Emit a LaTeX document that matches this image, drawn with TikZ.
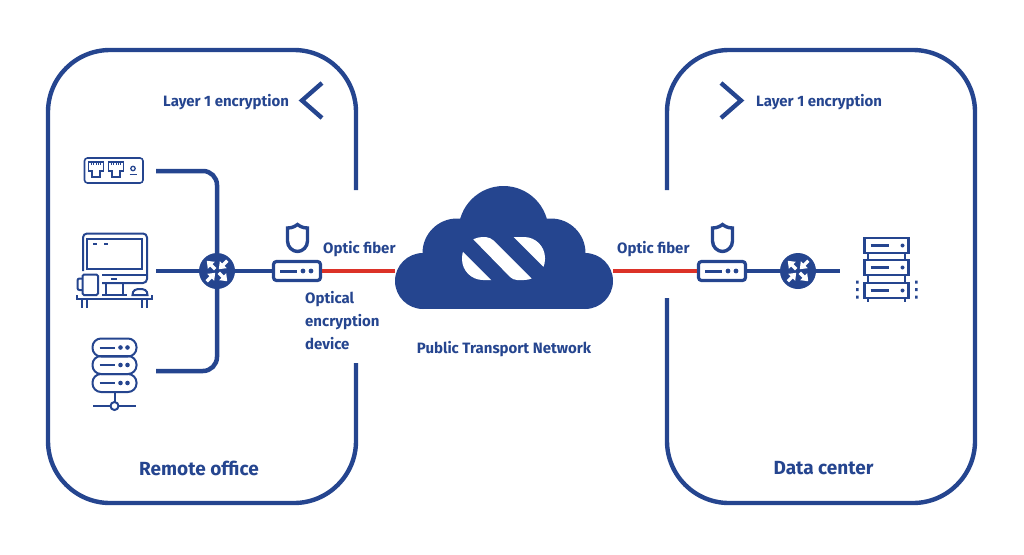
\documentclass[tikz,border=0pt]{standalone}
\usepackage{fontspec}
\setmainfont{Fira Sans}
\usepackage{tikz}
\usetikzlibrary{arrows.meta}
\definecolor{netblue}{HTML}{25458F}
\definecolor{fiberred}{HTML}{DC3228}
\tikzset{
	roomline/.style={draw=netblue,line width=4.4pt,rounded corners=62pt},
	netline/.style={draw=netblue,line width=4.5pt,rounded corners=14pt},
	fiberline/.style={draw=fiberred,line width=4.5pt},
	iconline/.style={draw=netblue,line width=2pt},
	lbl/.style={text=netblue,font=\bfseries\fontsize{15}{23}\selectfont,inner sep=0pt},
	roomlbl/.style={text=netblue,font=\bfseries\fontsize{19}{22}\selectfont,inner sep=0pt},
	swnode/.style={circle,fill=netblue,minimum size=36pt,inner sep=0pt},
	devbox/.style={draw=netblue,line width=3.2pt,rounded corners=3pt,minimum width=47pt,minimum height=19pt,inner sep=0pt},
	swtip/.style={white,line width=3.2pt,-{Triangle[width=9.5pt,length=6.5pt]}},
	pics/swarrows/.style={code={
		\foreach \a in {45,225}
			\draw[swtip] (\a:14.5pt) -- (\a:2.5pt);
		\foreach \a in {135,315}
			\draw[swtip] (\a:2.5pt) -- (\a:14.5pt);
	}},
	pics/shieldicon/.style={code={
		\draw[netblue,line width=3.4pt] (-10pt,10pt) .. controls (-5pt,10pt) and (-2pt,12pt) .. (0pt,13.5pt)
			.. controls (2pt,12pt) and (5pt,10pt) .. (10pt,10pt) -- (10pt,-3pt)
			.. controls (10pt,-9pt) and (5pt,-13.5pt) .. (0pt,-13.5pt)
			.. controls (-5pt,-13.5pt) and (-10pt,-9pt) .. (-10pt,-3pt) -- cycle;
	}},
	pics/devinner/.style={code={
		\draw[netblue,line width=3pt] (-17pt,0pt) -- (0pt,0pt);
		\fill[netblue] (6pt,0pt) circle (2.4pt) (14pt,0pt) circle (2.4pt);
	}},
	pics/rackunit/.style={code={
		\draw[netblue,line width=2.5pt] (-22pt,-7.5pt) rectangle (22pt,7.5pt);
		\draw[netblue,line width=2.5pt] (-16pt,0pt) -- (2pt,0pt);
		\fill[netblue] (16pt,0pt) circle (2pt);
	}},
	pics/pillunit/.style={code={
		\draw[netblue,line width=2pt,rounded corners=8.5pt] (-22pt,-9pt) rectangle (22pt,9pt);
		\draw[netblue,line width=2pt] (-15pt,0pt) -- (0pt,0pt);
		\fill[netblue] (6pt,0pt) circle (2.3pt) (13pt,0pt) circle (2.3pt);
	}},
	pics/portunit/.style={code={
		\draw[netblue,line width=1.3pt] (-7.5pt,7.5pt) -- (7.5pt,7.5pt) -- (7.5pt,-1.5pt) -- (4pt,-1.5pt) -- (4pt,-7.5pt) -- (-4pt,-7.5pt) -- (-4pt,-1.5pt) -- (-7.5pt,-1.5pt) -- cycle;
		\foreach \t in {-4.5,-2.25,0,2.25,4.5}
			\draw[netblue,line width=.8pt] (\t pt,7.5pt) -- (\t pt,4.5pt);
	}}
}
\begin{document}
\begin{tikzpicture}[x=1pt,y=-1pt]
	\useasboundingbox (0,0) rectangle (1024,554);
	% rooms
	\draw[roomline] (356,190) |- (48,50) |- (356,503) -- (356,363);
	\draw[roomline] (667,190) |- (975,50) |- (667,503) -- (667,298);
	\draw[draw=netblue,line width=4.4pt] (322,83) -- (302,100.5) -- (322,118);
	\draw[draw=netblue,line width=4.4pt] (721,83) -- (741,100.5) -- (721,118);
	\node[lbl,anchor=west] (layerleft) at (163,102.5) {Layer 1 encryption};
	\node[lbl,anchor=west] (layerright) at (756,102.5) {Layer 1 encryption};
	\node[roomlbl] (remote) at (199,468) {Remote office};
	\node[roomlbl] (center) at (823.5,468) {Data center};
	% main nodes
	\node[swnode] (swleft) at (217,271) {};
	\node[swnode] (swright) at (798,271) {};
	\node[devbox] (encleft) at (297,271) {};
	\node[devbox] (encright) at (722,271) {};
	\node[minimum width=218pt,minimum height=76pt,inner sep=0pt] (cloud) at (504,271) {};
	\coordinate (routerend) at (156,171);
	\coordinate (pcend) at (156,271);
	\coordinate (serverend) at (156,371);
	\coordinate (rackend) at (840,271);
	% connectors
	\draw[netline] (routerend) -| (swleft);
	\draw[netline] (serverend) -| (swleft);
	\draw[netline] (pcend) -- (swleft);
	\draw[netline] (swleft) -- (encleft);
	\draw[netline] (encright) -- (swright);
	\draw[netline] (swright) -- (rackend);
	\draw[fiberline] (encleft) -- (cloud);
	\draw[fiberline] (cloud) -- (encright);
	\pic at (swleft) {swarrows};
	\pic at (swright) {swarrows};
	\pic at (encleft) {devinner};
	\pic at (encright) {devinner};
	\pic at (297.5,238) {shieldicon};
	\pic at (722.5,238) {shieldicon};
	% cloud
	\fill[netblue] (423,281) circle (28);
	\fill[netblue] (585,281) circle (28);
	\fill[netblue] (457,253) circle (34.5);
	\fill[netblue] (551,253) circle (34.5);
	\fill[netblue] (503.5,231) circle (45);
	\fill[netblue] (423,253) rectangle (585,309);
	\begin{scope}
		\clip[rounded corners=21pt] (462,237) rectangle (545,280);
		\fill[white] (441,230) -- (496,285) -- (440,285) -- cycle;
		\fill[white,rounded corners=4pt] (470,236) -- (490.5,237.5) -- (536,283) -- (540,280) -- (513,280) -- cycle;
		\fill[white] (506.5,230) -- (570,230) -- (570,285) -- (561.5,285) -- cycle;
	\end{scope}
	\node[lbl,anchor=west] (fiberleft) at (323,249.5) {Optic fiber};
	\node[lbl,anchor=west] (fiberright) at (617,249.5) {Optic fiber};
	\node[lbl,anchor=north west,align=left] (devlabel) at (305,291) {Optical\\encryption\\device};
	\node[lbl] (transport) at (504,349.5) {Public Transport Network};
	% router
	\draw[draw=netblue,line width=1.6pt,rounded corners=3pt] (84.5,158) rectangle (143,183);
	\pic at (96,169.5) {portunit};
	\pic at (116,169.5) {portunit};
	\draw[netblue,line width=1.3pt] (133,168.5) circle (2.2);
	\draw[netblue,line width=1.5pt] (129.5,174.5) -- (136.5,174.5);
	% computer
	\draw[iconline,rounded corners=4pt] (83,271) -- (83,233.5) -- (147,233.5) -- (147,283) -- (102,283);
	\draw[iconline] (86.5,238.5) rectangle (142,269);
	\draw[iconline] (102,274.5) -- (147,274.5);
	\draw[iconline] (93,243.5) -- (97,243.5) (104,243.5) -- (108,243.5);
	\draw[iconline] (111,278.5) -- (117,278.5);
	\draw[iconline,rounded corners=1.5pt] (82.5,274.5) rectangle (98,295);
	\draw[iconline,rounded corners=2pt] (82.5,278.5) -- (77.5,278.5) -- (77.5,290) -- (82.5,290);
	\draw[iconline] (106,283) -- (106,295) (123,283) -- (123,295) (102,295) -- (127,295);
	\draw[iconline] (132.5,295) .. controls (132.5,290) and (136,289) .. (140,289) .. controls (144,289) and (147.5,290) .. (147.5,295) -- cycle;
	\draw[iconline] (77,295) -- (77,298.5) -- (152,298.5) -- (152,295);
	\draw[iconline] (82,298.5) -- (82,308) (87,298.5) -- (87,308) (142,298.5) -- (142,308) (147,298.5) -- (147,308);
	% server on the left
	\pic at (114.5,347.5) {pillunit};
	\pic at (114.5,365) {pillunit};
	\pic at (114.5,383) {pillunit};
	\draw[iconline] (114.5,392) -- (114.5,402);
	\draw[iconline] (93,406) -- (110.5,406) (118.5,406) -- (136,406);
	\draw[iconline] (114.5,406) circle (4);
	% rack on the right
	\pic at (886.5,245.5) {rackunit};
	\pic at (886.5,267.5) {rackunit};
	\pic at (886.5,290.5) {rackunit};
	\draw[netblue,line width=2.5pt] (868,253) -- (868,260) (905,253) -- (905,260) (868,275) -- (868,283) (905,275) -- (905,283) (868,298) -- (868,302) (905,298) -- (905,302);
	\foreach \d in {282,289.5,297}
		\fill[netblue] (856,\d-1.5) rectangle (858.5,\d+1.5) (915,\d-1.5) rectangle (917.5,\d+1.5);
\end{tikzpicture}
\end{document}
